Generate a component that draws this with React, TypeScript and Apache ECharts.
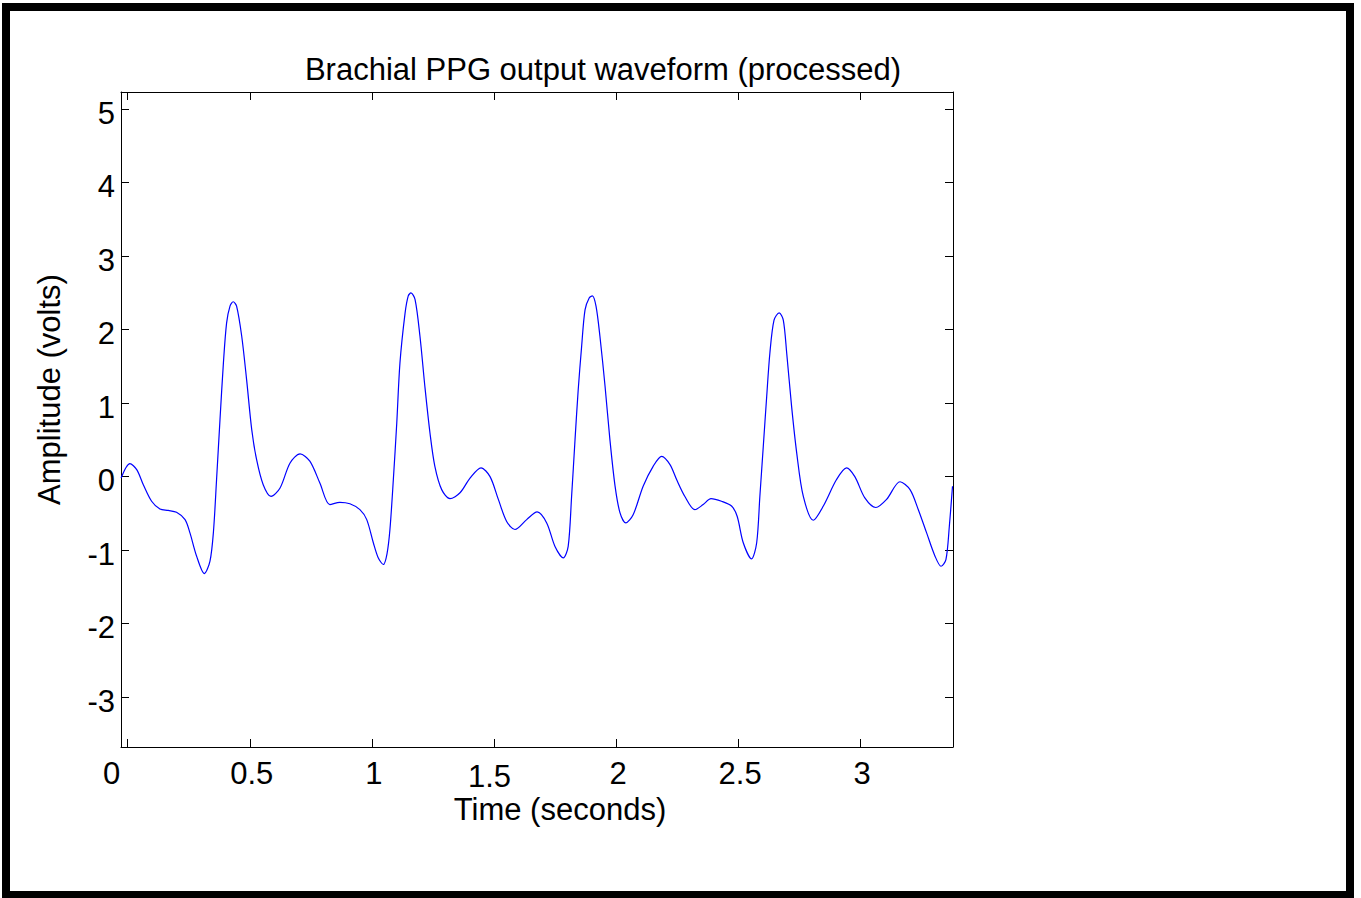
import React, { useEffect, useRef } from "react";
import * as echarts from "echarts";

const timeSec = [
  -0.027, 0.009, 0.037, 0.064, 0.098, 0.132, 0.166, 0.2, 0.235, 0.255, 0.282, 0.314, 0.337, 0.351,
  0.364, 0.378, 0.392, 0.405, 0.419, 0.432, 0.446, 0.467, 0.487, 0.508, 0.528, 0.555, 0.587, 0.624,
  0.665, 0.706, 0.746, 0.787, 0.828, 0.869, 0.91, 0.951, 0.979, 1.006, 1.026, 1.047, 1.062, 1.074,
  1.088, 1.102, 1.115, 1.136, 1.149, 1.16, 1.177, 1.197, 1.217, 1.238, 1.258, 1.286, 1.32, 1.361,
  1.402, 1.447, 1.484, 1.518, 1.552, 1.586, 1.634, 1.677, 1.716, 1.75, 1.784, 1.804, 1.818, 1.832,
  1.845, 1.859, 1.873, 1.89, 1.903, 1.918, 1.934, 1.955, 1.975, 1.996, 2.016, 2.04, 2.07, 2.111,
  2.152, 2.187, 2.221, 2.248, 2.282, 2.323, 2.357, 2.389, 2.432, 2.473, 2.496, 2.521, 2.555, 2.576,
  2.589, 2.603, 2.617, 2.63, 2.647, 2.668, 2.685, 2.699, 2.719, 2.74, 2.767, 2.808, 2.849, 2.903,
  2.944, 2.978, 3.019, 3.064, 3.108, 3.163, 3.204, 3.238, 3.272, 3.306, 3.331, 3.351, 3.365, 3.378,
];

const amplitudeV = [
  -0.02, 0.177, 0.095, -0.11, -0.335, -0.44, -0.46, -0.485, -0.585, -0.766, -1.08, -1.32, -1.15, -0.76,
  -0.04, 0.775, 1.546, 2.09, 2.32, 2.38, 2.32, 1.91, 1.32, 0.64, 0.23, -0.11, -0.27, -0.155,
  0.186, 0.31, 0.21, -0.086, -0.38, -0.35, -0.37, -0.45, -0.585, -0.9, -1.105, -1.196, -1.05, -0.72,
  -0.04, 0.73, 1.546, 2.225, 2.46, 2.5, 2.41, 1.91, 1.23, 0.594, 0.14, -0.177, -0.3, -0.22,
  -0.02, 0.12, 0.0, -0.31, -0.61, -0.72, -0.585, -0.48, -0.63, -0.95, -1.105, -0.95, -0.27, 0.5,
  1.18, 1.77, 2.27, 2.43, 2.46, 2.32, 1.91, 1.23, 0.5, -0.13, -0.49, -0.63, -0.52, -0.13,
  0.14, 0.276, 0.163, -0.04, -0.27, -0.45, -0.38, -0.3, -0.335, -0.4, -0.54, -0.9, -1.12, -0.9,
  -0.27, 0.41, 1.09, 1.68, 2.13, 2.23, 2.13, 1.68, 0.956, 0.32, -0.27, -0.594, -0.4, -0.04,
  0.12, 0.0, -0.29, -0.42, -0.31, -0.07, -0.177, -0.45, -0.766, -1.08, -1.22, -1.13, -0.675, -0.13,
];

const xTicks = [0, 0.5, 1, 1.5, 2, 2.5, 3];
const yTicks = [-3, -2, -1, 0, 1, 2, 3, 4, 5];

const FONT = "'Liberation Sans', Arial, Helvetica, sans-serif";
const FS = 31;

export default function App() {
  const ref = useRef<HTMLDivElement>(null);
  useEffect(() => {
    if (!ref.current) return;
    const chart = echarts.init(ref.current, null, { renderer: "svg" });
    const data = timeSec.map((t, i) => [t, amplitudeV[i]]);
    const axisLine = { show: true, onZero: false, lineStyle: { color: "#000", width: 1 } };
    const tick = (vals: number[]) => ({
      show: true,
      inside: true,
      length: 8,
      customValues: vals,
      lineStyle: { color: "#000", width: 1 },
    });
    const xMin = -0.0274;
    const xMax = 3.38;
    const yMin = -3.68;
    const yMax = 5.235;
    chart.setOption({
      animation: false,
      backgroundColor: "#fff",
      title: {
        text: "Brachial PPG output waveform (processed)",
        left: 598,
        top: 49,
        textAlign: "center",
        textStyle: { fontFamily: FONT, fontSize: FS, fontWeight: "normal", color: "#000" },
      },
      graphic: [
        {
          type: "rect",
          shape: { x: 6, y: 7, width: 1344, height: 888 },
          style: { fill: "none", stroke: "#000", lineWidth: 8 },
          silent: true,
        },
      ],
      grid: { left: 121, top: 92, width: 832, height: 655, containLabel: false },
      xAxis: [
        {
          type: "value",
          min: xMin,
          max: xMax,
          position: "bottom",
          axisLine,
          splitLine: { show: false },
          axisTick: tick(xTicks),
          axisLabel: {
            show: true,
            customValues: xTicks,
            margin: 11,
            color: "#000",
            fontFamily: FONT,
            fontSize: FS,
            formatter: (v: number) => (v === 0 ? "{z|0}" : v === 1.5 ? "{d|1.5}" : "{n|" + v + "}"),
            rich: {
              z: { fontFamily: FONT, fontSize: FS, color: "#000", padding: [0, 32, 0, 0] },
              d: { fontFamily: FONT, fontSize: FS, color: "#000", padding: [3, 9, 0, 0] },
              n: { fontFamily: FONT, fontSize: FS, color: "#000", padding: [0, 0, 0, 4] },
            },
          },
          name: "Time (seconds)",
          nameLocation: "middle",
          nameGap: 47,
          nameMoveOverlap: false,
          nameTextStyle: { fontFamily: FONT, fontSize: FS, color: "#000", padding: [0, 0, 0, 46] },
        },
        {
          type: "value",
          min: xMin,
          max: xMax,
          position: "top",
          axisLine,
          splitLine: { show: false },
          axisTick: tick(xTicks),
          axisLabel: { show: false },
        },
      ],
      yAxis: [
        {
          type: "value",
          min: yMin,
          max: yMax,
          position: "left",
          axisLine,
          splitLine: { show: false },
          axisTick: tick(yTicks),
          axisLabel: {
            show: true,
            customValues: yTicks,
            margin: 6,
            color: "#000",
            fontFamily: FONT,
            fontSize: FS,
            formatter: (v: number) => "{a|" + v + "}",
            rich: {
              a: { fontFamily: FONT, fontSize: FS, color: "#000", padding: [8, 0, 0, 0] },
            },
          },
          name: "Amplitude (volts)",
          nameLocation: "middle",
          nameGap: 56,
          nameMoveOverlap: false,
          nameTextStyle: { fontFamily: FONT, fontSize: FS, color: "#000", padding: [0, 0, 0, 60] },
        },
        {
          type: "value",
          min: yMin,
          max: yMax,
          position: "right",
          axisLine,
          splitLine: { show: false },
          axisTick: tick(yTicks),
          axisLabel: { show: false },
        },
      ],
      series: [
        {
          type: "line",
          data,
          xAxisIndex: 0,
          yAxisIndex: 0,
          showSymbol: false,
          smooth: 0.3,
          lineStyle: { color: "#0000ff", width: 1.2 },
          clip: true,
        },
      ],
    });
    return () => chart.dispose();
  }, []);
  return (
    <div
      ref={ref}
      style={{ position: "fixed", left: 0, top: 0, width: 1361, height: 898, background: "#fff" }}
    />
  );
}
